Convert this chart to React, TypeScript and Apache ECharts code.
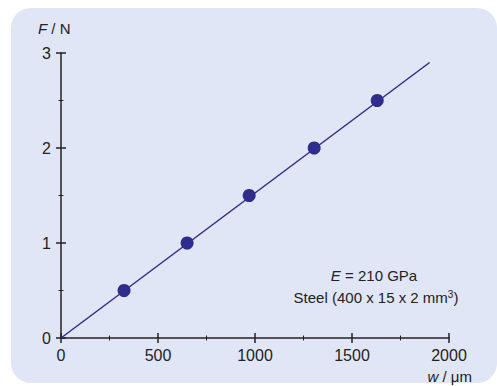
import React, { useEffect, useRef } from "react";
import * as echarts from "echarts";

const widths = [325, 650, 970, 1305, 1630];
const forces = [0.5, 1.0, 1.5, 2.0, 2.5];
const fitLine = [
  [0, 0],
  [1900, 2.9],
];

const INK = "#222222";
const BLUE = "#2E2C8C";
const FONT = "'Liberation Sans', Arial, sans-serif";

export default function App() {
  const ref = useRef<HTMLDivElement>(null);
  useEffect(() => {
    if (!ref.current) return;
    const chart = echarts.init(ref.current, null, { renderer: "svg" });
    const xBase = {
      type: "value",
      min: 0,
      max: 2000,
      interval: 500,
      position: "bottom",
      splitLine: { show: false },
    };
    const yBase = {
      type: "value",
      min: 0,
      max: 3,
      interval: 1,
      position: "left",
      splitLine: { show: false },
    };
    chart.setOption({
      animation: false,
      backgroundColor: "#ffffff",
      grid: { left: 61, right: 48, top: 53, bottom: 48 },
      graphic: [
        {
          type: "rect",
          z: -10,
          silent: true,
          shape: { x: 11, y: 8, width: 486, height: 375, r: 20 },
          style: { fill: "#E1E6F6" },
        },
        {
          type: "text",
          x: 38,
          y: 28,
          style: {
            text: "{i|F} / N",
            verticalAlign: "middle",
            rich: {
              i: { fontStyle: "italic", fontSize: 15, fontFamily: FONT, fill: INK },
            },
            fontSize: 15,
            fontFamily: FONT,
            fill: INK,
          },
        },
        {
          type: "text",
          x: 472,
          y: 376,
          style: {
            text: "{i|w} / μm",
            align: "right",
            verticalAlign: "middle",
            rich: {
              i: { fontStyle: "italic", fontSize: 15, fontFamily: FONT, fill: INK },
            },
            fontSize: 15,
            fontFamily: FONT,
            fill: INK,
          },
        },
        {
          type: "text",
          x: 374,
          y: 275,
          style: {
            text: "{i|E} = 210 GPa",
            align: "center",
            verticalAlign: "middle",
            rich: {
              i: { fontStyle: "italic", fontSize: 15, fontFamily: FONT, fill: INK },
            },
            fontSize: 15,
            fontFamily: FONT,
            fill: INK,
          },
        },
        {
          type: "text",
          x: 376,
          y: 297,
          style: {
            text: "Steel (400 x 15 x 2 mm{s|3})",
            align: "center",
            verticalAlign: "middle",
            rich: {
              s: { fontSize: 10, fontFamily: FONT, fill: INK, verticalAlign: "top", padding: [0, 0, 6, 0] },
            },
            fontSize: 15,
            fontFamily: FONT,
            fill: INK,
          },
        },
      ],
      xAxis: [
        {
          ...xBase,
          axisLine: { show: true, onZero: false, lineStyle: { color: INK, width: 1.5 } },
          axisTick: { show: true, inside: false, length: 5, lineStyle: { color: INK, width: 1.5 } },
          minorTick: { show: true, splitNumber: 2, length: 2.5, lineStyle: { color: INK, width: 1 } },
          axisLabel: {
            margin: 9,
            color: INK,
            fontSize: 16,
            fontFamily: FONT,
            formatter: (v: number) => String(v),
          },
        },
        {
          ...xBase,
          axisLine: { show: false },
          axisTick: { show: true, inside: true, length: 5, lineStyle: { color: INK, width: 1.5 } },
          minorTick: { show: true, splitNumber: 2, length: 2.5, lineStyle: { color: INK, width: 1 } },
          axisLabel: { show: false },
        },
      ],
      yAxis: [
        {
          ...yBase,
          axisLine: { show: true, onZero: false, lineStyle: { color: INK, width: 1.5 } },
          axisTick: { show: true, inside: false, length: 5, lineStyle: { color: INK, width: 1.5 } },
          minorTick: { show: true, splitNumber: 2, length: 2.5, lineStyle: { color: INK, width: 1 } },
          axisLabel: {
            margin: 10,
            color: INK,
            fontSize: 16,
            fontFamily: FONT,
            formatter: (v: number) => String(v),
          },
        },
        {
          ...yBase,
          axisLine: { show: false },
          axisTick: { show: true, inside: true, length: 5, lineStyle: { color: INK, width: 1.5 } },
          minorTick: { show: true, splitNumber: 2, length: 2.5, lineStyle: { color: INK, width: 1 } },
          axisLabel: { show: false },
        },
      ],
      series: [
        {
          type: "line",
          xAxisIndex: 0,
          yAxisIndex: 0,
          data: fitLine,
          showSymbol: false,
          symbol: "none",
          lineStyle: { color: BLUE, width: 1.5 },
          z: 2,
        },
        {
          type: "scatter",
          xAxisIndex: 0,
          yAxisIndex: 0,
          data: widths.map((w, i) => [w, forces[i]]),
          symbol: "circle",
          symbolSize: 13,
          itemStyle: { color: BLUE, opacity: 1 },
          z: 3,
        },
      ],
    });
    return () => chart.dispose();
  }, []);
  return (
    <div
      ref={ref}
      style={{ position: "fixed", left: 0, top: 0, width: 497, height: 386 }}
    />
  );
}
